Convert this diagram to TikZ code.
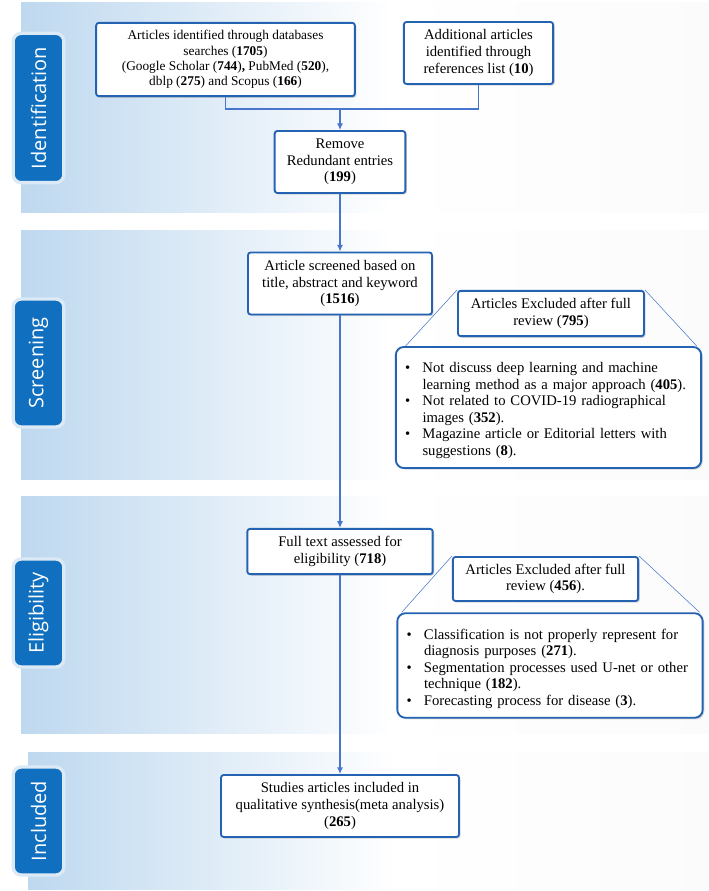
\documentclass[tikz,border=0pt]{standalone}
\usepackage{fontspec}
\setmainfont{Liberation Serif}
\newfontfamily\tabfont{Open Sans}
\usetikzlibrary{shadows,arrows.meta}
\definecolor{bandblue}{RGB}{190,216,239}
\definecolor{tabblue}{RGB}{16,111,190}
\definecolor{boxblue}{RGB}{36,98,178}
\definecolor{lineblue}{RGB}{72,118,204}
\pgfdeclarehorizontalshading{bandshade}{100bp}{color(0bp)=(bandblue); color(25bp)=(bandblue); color(52bp)=(white); color(75bp)=(white!97!gray); color(100bp)=(white!97!gray)}
\newcommand{\listpt}[1]{\par\noindent\hangindent=13pt\hangafter=1\hbox to 13pt{\textbullet\hfil}#1\par}

\begin{document}
\begin{tikzpicture}[x=0.75pt,y=-0.75pt,
  band/.style={shading=bandshade},
  tab/.style={rounded corners=6pt,fill=tabblue,draw=bandblue!55!white,line width=2.5pt,
    text=white,rotate=90,minimum height=38pt,inner sep=0pt,font=\tabfont\fontsize{15}{18}\selectfont},
  box/.style={draw=boxblue,line width=1.4pt,fill=white,rounded corners=2pt,align=center,
    inner sep=2pt,font=\fontsize{11}{12.5}\selectfont,
    drop shadow={shadow xshift=1.2pt,shadow yshift=-1.2pt,opacity=0.3}},
  listbox/.style={box,rounded corners=6pt,align=left,text width=215pt,inner sep=7pt,
    font=\fontsize{11}{12.4}\selectfont},
  link/.style={draw=lineblue,line width=0.9pt},
  arrow/.style={link,-{Latex[length=5pt,width=4.5pt]}},
  fan/.style={draw=lineblue,line width=0.4pt}]
\useasboundingbox (0,0) rectangle (708,891);
\fill[white] (0,0) rectangle (708,891);

\fill[band] (21,3) rectangle (708,213);
\fill[band] (21,230) rectangle (708,479);
\fill[band] (21,496) rectangle (708,733);
\fill[band] (28,752) rectangle (708,889);

\node[tab,minimum width=112pt] (identification) at (38.5,108) {Identification};
\node[tab,minimum width=96pt] (screening) at (38.5,363) {Screening};
\node[tab,minimum width=81pt] (eligibility) at (38.5,613) {Eligibility};
\node[tab,minimum width=81pt] (included) at (38.5,821) {Included};

\node[box,minimum width=194pt,minimum height=55pt,font=\fontsize{10}{11.5}\selectfont] (identified) at (225.5,59.5)
  {Articles identified through databases\\searches (\textbf{1705})\\(Google Scholar (\textbf{744})\textbf{,} PubMed (\textbf{520}),\\dblp (\textbf{275}) and Scopus (\textbf{166})};
\node[box,minimum width=112pt,minimum height=46.5pt] (additional) at (478.5,53)
  {Additional articles\\identified through\\references list (\textbf{10})};
\node[box,minimum width=98pt,minimum height=46.5pt] (remove) at (340,162)
  {Remove\\Redundant entries\\(\textbf{199})};
\node[box,minimum width=138pt,minimum height=46.5pt] (screened) at (340,283.5)
  {Article screened based on\\title, abstract and keyword\\(\textbf{1516})};
\node[box,minimum width=139.5pt,minimum height=34pt] (excludedhead) at (551,313.5)
  {Articles Excluded after full\\review (\textbf{795})};
\node[listbox,minimum width=229pt,minimum height=85pt] (excluded) at (548.5,407.5)
  {\listpt{Not discuss deep learning and machine\newline learning method as a major approach (\textbf{405}).}%
   \listpt{Not related to COVID-19 radiographical\newline images (\textbf{352}).}%
   \listpt{Magazine article or Editorial letters with\newline suggestions (\textbf{8}).}};
\node[box,minimum width=139pt,minimum height=34pt] (fulltext) at (340,551.5)
  {Full text assessed for\\eligibility (\textbf{718})};
\node[box,minimum width=139pt,minimum height=33pt] (rejectedhead) at (545.5,579)
  {Articles Excluded after full\\review (\textbf{456}).};
\node[listbox,minimum width=226.5pt,minimum height=71pt] (rejected) at (550,665.5)
  {\listpt{Classification is not properly represent for\newline diagnosis purposes (\textbf{271}).}%
   \listpt{Segmentation processes used U-net or other\newline technique (\textbf{182}).}%
   \listpt{Forecasting process for disease (\textbf{3}).}};
\node[box,minimum width=178.5pt,minimum height=46.5pt] (studies) at (340,806)
  {Studies articles included in\\qualitative synthesis(meta analysis)\\(\textbf{265})};

\coordinate (join) at (340,109);
\draw[link] (identified.south) |- (join);
\draw[link] (additional.south) |- (join);
\draw[arrow] (join) -- (remove.north);
\draw[arrow] (remove.south) -- (screened.north);
\draw[arrow] (screened.south) -- (fulltext.north);
\draw[arrow] (fulltext.south) -- (studies.north);

\draw[fan] (excludedhead.north west) -- ([xshift=8pt]excluded.north west);
\draw[fan] (excludedhead.north east) -- ([xshift=-4pt]excluded.north east);
\draw[fan] (rejectedhead.north west) -- ([xshift=4pt]rejected.north west);
\draw[fan] (rejectedhead.north east) -- ([xshift=-3pt]rejected.north east);
\end{tikzpicture}
\end{document}
